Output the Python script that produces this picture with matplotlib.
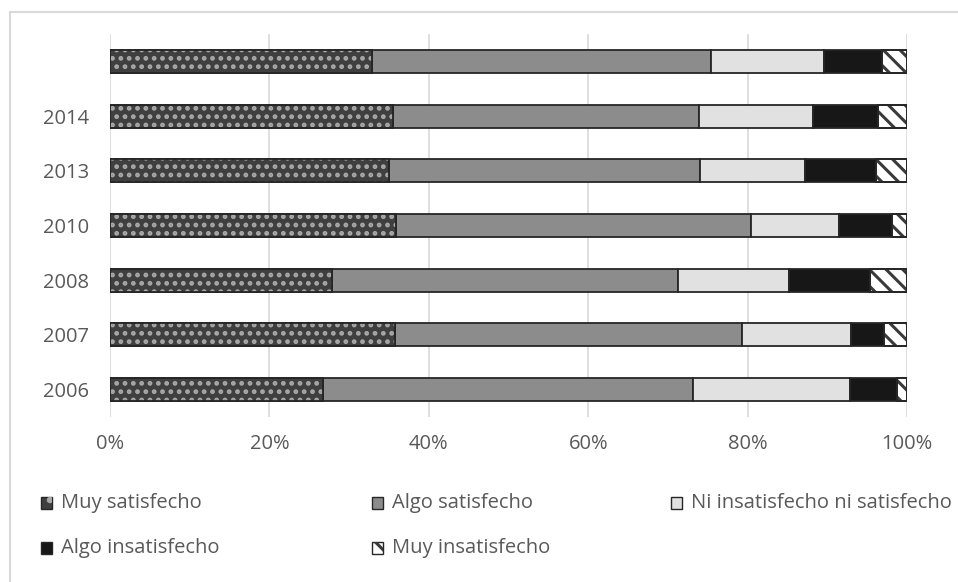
import numpy as np
import matplotlib
matplotlib.use('Agg')
import matplotlib.pyplot as plt
from matplotlib.patches import Rectangle

# Data (percent of respondents per year)
years = ['2006', '2007', '2008', '2010', '2013', '2014', '']
categories = ['Muy satisfecho', 'Algo satisfecho', 'Ni insatisfecho ni satisfecho',
              'Algo insatisfecho', 'Muy insatisfecho']
muy_sat = [26.7, 35.8, 27.9, 35.9, 35.0, 35.5, 32.9]
algo_sat = [46.5, 43.5, 43.4, 44.5, 39.0, 38.4, 42.5]
ni_ni = [19.6, 13.7, 13.9, 11.1, 13.2, 14.3, 14.2]
algo_insat = [5.9, 4.1, 10.2, 6.6, 8.9, 8.2, 7.3]
muy_insat = [1.3, 2.9, 4.6, 1.9, 3.9, 3.6, 3.1]
x_ticks = ['0%', '20%', '40%', '60%', '80%', '100%']

series = [muy_sat, algo_sat, ni_ni, algo_insat, muy_insat]
faces = ['#3f3f3f', '#8c8c8c', '#e1e1e1', '#171717', '#ffffff']
hatches = ['..', None, None, None, '\\\\']
hatch_cols = ['#a8a8a8', None, None, None, '#3a3a3a']
edge = '#262626'

plt.rcParams['font.family'] = ['Open Sans', 'DejaVu Sans']
plt.rcParams['hatch.linewidth'] = 2.2
text_col = '#595959'

fig = plt.figure(figsize=(9.58, 5.82), dpi=100)
W, H = 958, 582
ax = fig.add_axes([110 / W, 1 - 417 / H, 797 / W, 383 / H])

y = np.arange(len(years))
left = np.zeros(len(years))
for vals, fc, hp, hc in zip(series, faces, hatches, hatch_cols):
    ax.barh(y, vals, left=left, height=0.42, color=fc, edgecolor=edge, linewidth=1.3, zorder=2)
    if hp:
        ax.barh(y, vals, left=left, height=0.42, color='none', edgecolor=hc,
                hatch=hp, linewidth=0, zorder=3)
        ax.barh(y, vals, left=left, height=0.42, color='none', edgecolor=edge,
                linewidth=1.3, zorder=4)
    left += np.array(vals)

ax.set_xlim(0, 100)
ax.set_ylim(-0.5, len(years) - 0.5)
ax.set_xticks(np.arange(0, 101, 20))
ax.set_xticklabels(x_ticks)
ax.set_yticks(y)
ax.set_yticklabels(years)
ax.tick_params(axis='both', length=0, labelsize=14.5, colors=text_col)
ax.tick_params(axis='x', pad=12)
ax.tick_params(axis='y', pad=15)
ax.grid(axis='x', color='#d9d9d9', linewidth=1.2, zorder=0)
ax.set_axisbelow(True)
for s in ax.spines.values():
    s.set_visible(False)

# chart border
fig.patches.append(Rectangle((10 / W, -0.1), 1.2, 1.1 - 12 / H, transform=fig.transFigure,
                             fill=False, edgecolor='#d9d9d9', linewidth=1.5))

# legend, laid out row by row like the original
leg_pos = [(41, 503), (372, 503), (671, 503), (41, 548), (372, 548)]
for (px, py), name, fc, hp, hc in zip(leg_pos, categories, faces, hatches, hatch_cols):
    r = Rectangle((px / W, 1 - (py + 6) / H), 11 / W, 12 / H, transform=fig.transFigure,
                  facecolor=fc, edgecolor=edge, linewidth=1.0)
    fig.patches.append(r)
    if hp:
        fig.patches.append(Rectangle((px / W, 1 - (py + 6) / H), 11 / W, 12 / H,
                                     transform=fig.transFigure, facecolor='none',
                                     edgecolor=hc, hatch=hp[0], linewidth=0))
    fig.text((px + 20) / W, 1 - py / H, name, fontsize=14.5, color=text_col,
             va='center', ha='left')

fig.savefig('out.png', dpi=100)
